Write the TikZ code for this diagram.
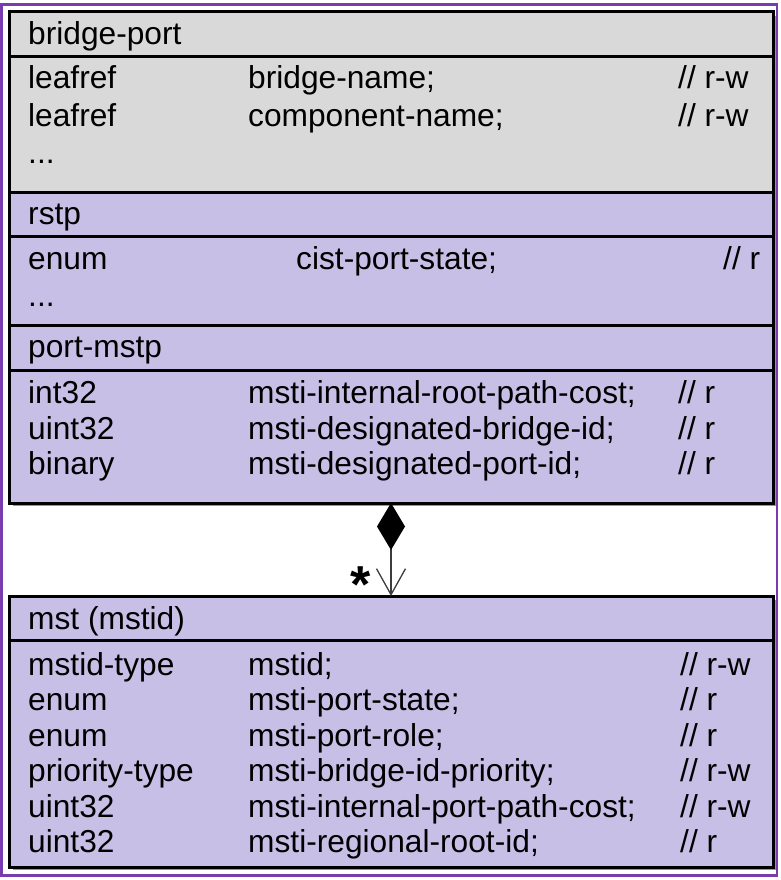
\documentclass[tikz,border=0pt]{standalone}
\usepackage{fontspec}
\setmainfont{Liberation Sans}
\usetikzlibrary{arrows.meta}
\definecolor{gfill}{RGB}{217,217,217}
\definecolor{pfill}{RGB}{200,191,230}
\definecolor{framec}{RGB}{120,60,175}
\definecolor{shadowc}{RGB}{150,150,150}
\definecolor{linkc}{RGB}{60,60,60}
\newcommand\rowfont{\fontsize{31.7}{36}\selectfont}
\begin{document}
\begin{tikzpicture}[x=1pt,y=-1pt,
  txt/.style={anchor=base west, inner sep=0pt, font=\rowfont},
  sepline/.style={line width=3pt},
  classbox/.style={draw, line width=3pt, anchor=north west, inner sep=0pt, outer sep=0pt, minimum width=764pt}]
\useasboundingbox (0,0) rectangle (781,880);
\draw[framec, line width=2.5pt] (1.5,4.5) rectangle (777,875.5);
% shadows
\fill[shadowc] (13,16) rectangle (776,506);
\fill[shadowc] (13,600) rectangle (776,870);
% fills
\fill[gfill] (9,12) rectangle (773,192);
\fill[pfill] (9,192) rectangle (773,503);
\fill[pfill] (9,596) rectangle (773,867);
% boxes
\node[classbox, minimum height=491pt] (portbox) at (9,12) {};
\node[classbox, minimum height=271pt] (mstbox) at (9,596) {};
% separators
\draw[sepline] (9,57) -- (773,57);
\draw[sepline] (9,192) -- (773,192);
\draw[sepline] (9,236) -- (773,236);
\draw[sepline] (9,325) -- (773,325);
\draw[sepline] (9,370) -- (773,370);
\draw[sepline] (9,640) -- (773,640);
% bridge-port
\node[txt] (h1) at (28,45) {bridge-port};
\node[txt] (a1) at (28,89) {leafref};
\node[txt] (b1) at (248,89) {bridge-name;};
\node[txt] (c1) at (678,89) {// r-w};
\node[txt] (a2) at (28,126) {leafref};
\node[txt] (b2) at (248,126) {component-name;};
\node[txt] (c2) at (678,126) {// r-w};
\node[txt] (a3) at (28,163) {...};
% rstp
\node[txt] (h2) at (28,224) {rstp};
\node[txt] (a4) at (28,269) {enum};
\node[txt] (b4) at (296,269) {cist-port-state;};
\node[txt] (c4) at (723,269) {// r};
\node[txt] (a5) at (28,306) {...};
% port-mstp
\node[txt] (h3) at (28,357) {port-mstp};
\node[txt] (a6) at (28,403) {int32};
\node[txt] (b6) at (248,403) {msti-internal-root-path-cost;};
\node[txt] (c6) at (678,403) {// r};
\node[txt] (a7) at (28,439) {uint32};
\node[txt] (b7) at (248,439) {msti-designated-bridge-id;};
\node[txt] (c7) at (678,439) {// r};
\node[txt] (a8) at (28,474) {binary};
\node[txt] (b8) at (248,474) {msti-designated-port-id;};
\node[txt] (c8) at (678,474) {// r};
% mst
\node[txt] (h4) at (28,629) {mst (mstid)};
\node[txt] (m1) at (28,675) {mstid-type};
\node[txt] (n1) at (248,675) {mstid;};
\node[txt] (o1) at (680,675) {// r-w};
\node[txt] (m2) at (28,710) {enum};
\node[txt] (n2) at (248,710) {msti-port-state;};
\node[txt] (o2) at (680,710) {// r};
\node[txt] (m3) at (28,746) {enum};
\node[txt] (n3) at (248,746) {msti-port-role;};
\node[txt] (o3) at (680,746) {// r};
\node[txt] (m4) at (28,781) {priority-type};
\node[txt] (n4) at (248,781) {msti-bridge-id-priority;};
\node[txt] (o4) at (680,781) {// r-w};
\node[txt] (m5) at (28,817) {uint32};
\node[txt] (n5) at (248,817) {msti-internal-port-path-cost;};
\node[txt] (o5) at (680,817) {// r-w};
\node[txt] (m6) at (28,852) {uint32};
\node[txt] (n6) at (248,852) {msti-regional-root-id;};
\node[txt] (o6) at (680,852) {// r};
% composition link
\draw[linkc, line width=1.3pt,
  {Diamond[length=47pt,width=28pt,fill=black,color=black]}-{Straight Barb[length=26pt,width=29pt]}]
  (portbox.south -| 391,0) -- (mstbox.north -| 391,0);
\node[anchor=base, inner sep=0pt, font=\fontsize{52}{52}\bfseries\selectfont] (star) at (361,602) {*};
\end{tikzpicture}
\end{document}
